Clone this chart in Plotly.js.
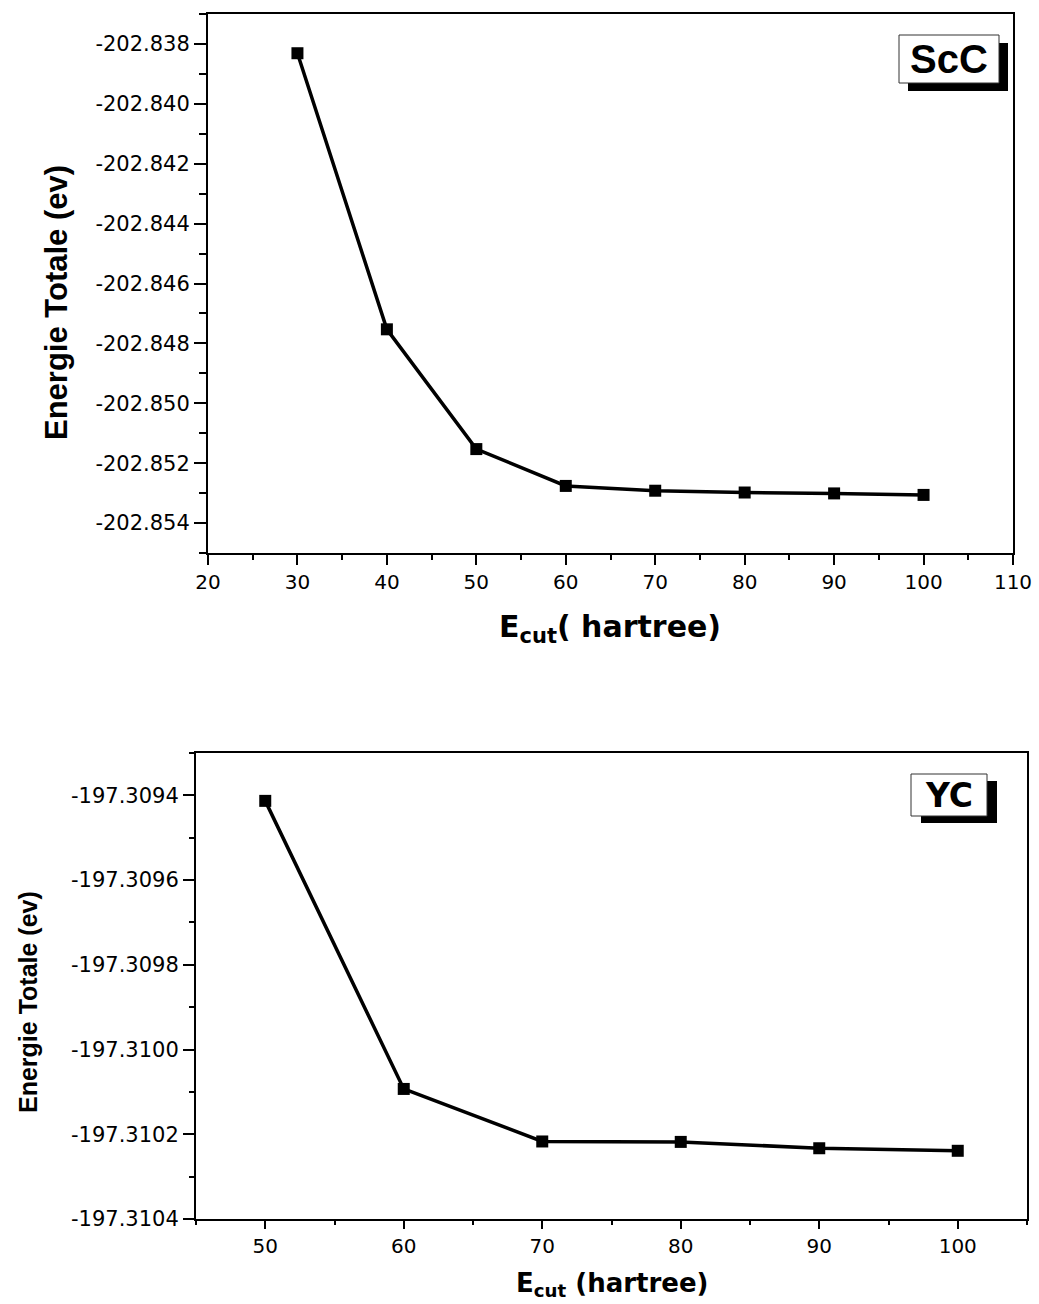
<!DOCTYPE html>
<html>
<head>
<meta charset="utf-8">
<script src="https://cdn.plot.ly/plotly-3.0.1.min.js"></script>
<style>
  html, body { margin: 0; padding: 0; background: #fff; overflow: hidden; }
  #chart { width: 1039px; height: 1304px; }
</style>
</head>
<body>
<div id="chart"></div>
<script>
// ---------- data ----------
const ecutScC   = [30, 40, 50, 60, 70, 80, 90, 100];
const energyScC = [-202.83831, -202.84753, -202.85153, -202.85276, -202.85292, -202.85298, -202.85301, -202.85306];

const ecutYC    = [50, 60, 70, 80, 90, 100];
const energyYC  = [-197.309413, -197.310093, -197.310217, -197.310218, -197.310233, -197.310239];

const xTicksScC      = [20, 30, 40, 50, 60, 70, 80, 90, 100, 110];
const xTickTextScC   = ["20", "30", "40", "50", "60", "70", "80", "90", "100", "110"];
const yTicksScC      = [-202.854, -202.852, -202.850, -202.848, -202.846, -202.844, -202.842, -202.840, -202.838];
const yTickTextScC   = ["-202.854", "-202.852", "-202.850", "-202.848", "-202.846", "-202.844", "-202.842", "-202.840", "-202.838"];

const xTicksYC       = [50, 60, 70, 80, 90, 100];
const xTickTextYC    = ["50", "60", "70", "80", "90", "100"];
const yTicksYC       = [-197.3104, -197.3102, -197.3100, -197.3098, -197.3096, -197.3094];
const yTickTextYC    = ["-197.3104", "-197.3102", "-197.3100", "-197.3098", "-197.3096", "-197.3094"];

const labelScC = "ScC";
const labelYC  = "YC";
const yTitle   = "Energie Totale (ev)";
const xTitleScC = "E<sub>cut</sub>( hartree)";
const xTitleYC  = "E<sub>cut</sub> (hartree)";

// ---------- layout helpers ----------
const W = 1039, H = 1304;
const px = v => v / W;
const py = v => 1 - v / H;

const tickFont = (s) => ({family: "DejaVu Sans, Liberation Sans, sans-serif", size: s, color: "#000"});
const arialBold = (s) => ({family: "Liberation Sans, Arial, sans-serif", size: s, color: "#000", weight: "bold"});
const dejaBold = (s) => ({family: "DejaVu Sans, sans-serif", size: s, color: "#000", weight: "bold"});

function axisBase() {
  return {
    showgrid: false, zeroline: false, showline: true, mirror: true,
    linecolor: "#000", linewidth: 2,
    ticks: "outside", tickcolor: "#000", tickwidth: 2,
    tickmode: "array", fixedrange: true
  };
}

const traceStyle = {
  mode: "lines+markers",
  line: {color: "#000", width: 3.5},
  marker: {symbol: "square", size: 12, color: "#000"},
  showlegend: false, hoverinfo: "x+y"
};

const data = [
  Object.assign({x: ecutScC, y: energyScC, xaxis: "x", yaxis: "y"}, traceStyle),
  Object.assign({x: ecutYC, y: energyYC, xaxis: "x2", yaxis: "y2"}, traceStyle)
];

const layout = {
  width: W, height: H,
  margin: {l: 0, r: 0, t: 0, b: 0},
  paper_bgcolor: "#fff", plot_bgcolor: "#fff",
  xaxis: Object.assign(axisBase(), {
    domain: [px(208), px(1013)], anchor: "y", range: [20, 110],
    tickvals: xTicksScC, ticktext: xTickTextScC, ticklen: 10,
    tickfont: tickFont(20),
    minor: {tickmode: "linear", tick0: 20, dtick: 5, ticklen: 5, tickwidth: 2, tickcolor: "#000", ticks: "outside"}
  }),
  yaxis: Object.assign(axisBase(), {
    domain: [py(553), py(14)], anchor: "x", range: [-202.855, -202.837],
    tickvals: yTicksScC, ticktext: yTickTextScC, ticklen: 12,
    tickfont: tickFont(21),
    minor: {tickmode: "linear", tick0: -202.855, dtick: 0.001, ticklen: 7, tickwidth: 2, tickcolor: "#000", ticks: "outside"}
  }),
  xaxis2: Object.assign(axisBase(), {
    domain: [px(196), px(1027)], anchor: "y2", range: [45, 105],
    tickvals: xTicksYC, ticktext: xTickTextYC, ticklen: 8,
    tickfont: tickFont(20),
    minor: {tickmode: "linear", tick0: 45, dtick: 5, ticklen: 4, tickwidth: 2, tickcolor: "#000", ticks: "outside"}
  }),
  yaxis2: Object.assign(axisBase(), {
    domain: [py(1219), py(753)], anchor: "x2", range: [-197.3104, -197.3093],
    tickvals: yTicksYC, ticktext: yTickTextYC, ticklen: 11,
    tickfont: tickFont(21),
    minor: {tickmode: "linear", tick0: -197.3104, dtick: 0.0001, ticklen: 5, tickwidth: 2, tickcolor: "#000", ticks: "outside"}
  }),
  shapes: [
    {type: "rect", xref: "paper", yref: "paper", x0: px(908), x1: px(1008), y0: py(91), y1: py(43), fillcolor: "#000", line: {width: 0}},
    {type: "rect", xref: "paper", yref: "paper", x0: px(899), x1: px(999), y0: py(83), y1: py(35), fillcolor: "#fff", line: {color: "#333", width: 1}},
    {type: "rect", xref: "paper", yref: "paper", x0: px(921), x1: px(997), y0: py(823), y1: py(781), fillcolor: "#000", line: {width: 0}},
    {type: "rect", xref: "paper", yref: "paper", x0: px(911), x1: px(987), y0: py(816), y1: py(774), fillcolor: "#fff", line: {color: "#333", width: 1}}
  ],
  annotations: [
    {text: labelScC, xref: "paper", yref: "paper", x: px(949), y: py(59), xanchor: "center", yanchor: "middle", showarrow: false, font: arialBold(40)},
    {text: labelYC, xref: "paper", yref: "paper", x: px(949), y: py(795), xanchor: "center", yanchor: "middle", showarrow: false, font: dejaBold(33)},
    {text: yTitle, xref: "paper", yref: "paper", x: px(56), y: py(303), xanchor: "center", yanchor: "middle", textangle: -90, showarrow: false, font: arialBold(31)},
    {text: yTitle, xref: "paper", yref: "paper", x: px(28), y: py(1002), xanchor: "center", yanchor: "middle", textangle: -90, showarrow: false, font: arialBold(25)},
    {text: xTitleScC, xref: "paper", yref: "paper", x: px(610), y: py(628), xanchor: "center", yanchor: "middle", showarrow: false, font: dejaBold(30)},
    {text: xTitleYC, xref: "paper", yref: "paper", x: px(612), y: py(1284), xanchor: "center", yanchor: "middle", showarrow: false, font: dejaBold(26)}
  ]
};

Plotly.newPlot("chart", data, layout, {staticPlot: true, displayModeBar: false});
</script>
</body>
</html>
